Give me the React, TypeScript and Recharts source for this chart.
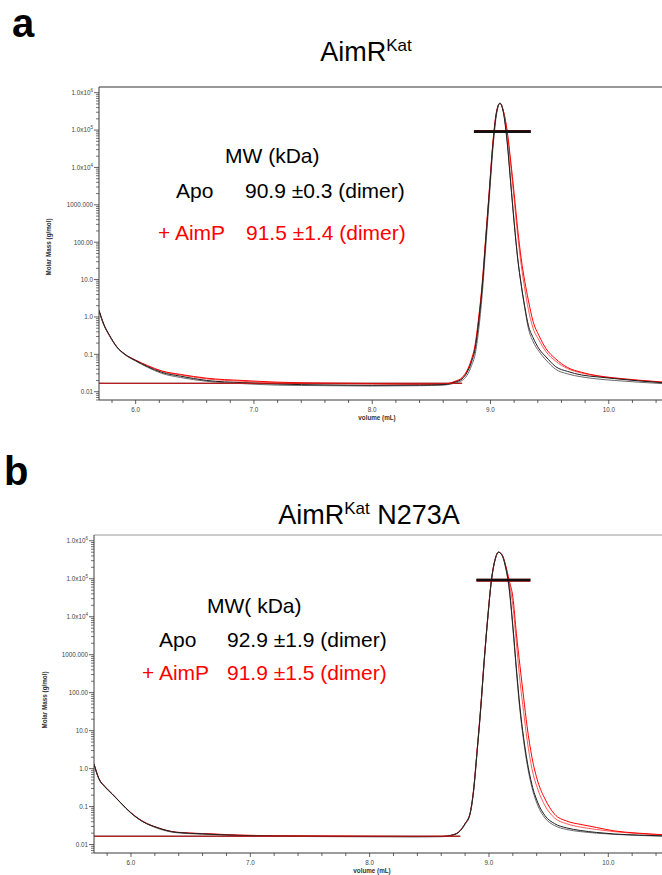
import React from 'react';
import { LineChart, Line, XAxis, YAxis, ReferenceLine } from 'recharts';

// elution volume grid (mL)
const volume = [5.69, 5.73, 5.78, 5.84, 5.91, 6.0, 6.1, 6.22, 6.38, 6.6, 6.9, 7.2, 7.6, 8.0, 8.4, 8.6, 8.7, 8.76, 8.8, 8.84, 8.87, 8.9, 8.93, 8.96, 8.99, 9.02, 9.05, 9.08, 9.11, 9.14, 9.17, 9.2, 9.23, 9.26, 9.29, 9.32, 9.36, 9.41, 9.47, 9.55, 9.65, 9.77, 9.9, 10.05, 10.25, 10.45];

// panel a: AimR Kat
const apoA1 = [1.5, 0.65, 0.32, 0.16, 0.1, 0.068, 0.047, 0.033, 0.026, 0.02, 0.0175, 0.016, 0.0152, 0.0148, 0.015, 0.0155, 0.018, 0.022, 0.032, 0.063, 0.14, 0.72, 6.3, 115, 2090, 39800, 282000, 525000, 282000, 50100, 3980, 324, 36, 7.2, 1.86, 0.6, 0.28, 0.141, 0.085, 0.047, 0.035, 0.028, 0.025, 0.0224, 0.0195, 0.0174];
const apoA2 = [1.45, 0.62, 0.31, 0.155, 0.097, 0.066, 0.045, 0.031, 0.024, 0.019, 0.0165, 0.015, 0.0145, 0.0142, 0.0145, 0.015, 0.017, 0.02, 0.027, 0.05, 0.1, 0.45, 4, 75, 1500, 30000, 250000, 520000, 300000, 56000, 4500, 360, 38, 7, 1.7, 0.5, 0.22, 0.12, 0.07, 0.04, 0.03, 0.025, 0.022, 0.02, 0.018, 0.0165];
const aimpA1 = [1.5, 0.62, 0.31, 0.16, 0.1, 0.07, 0.05, 0.036, 0.029, 0.023, 0.02, 0.018, 0.017, 0.0165, 0.016, 0.016, 0.019, 0.024, 0.036, 0.075, 0.18, 0.95, 8, 140, 2500, 45000, 300000, 520000, 316000, 100000, 15850, 2000, 224, 35.5, 8.9, 2.8, 0.76, 0.316, 0.141, 0.076, 0.0447, 0.033, 0.0269, 0.0234, 0.0204, 0.0182];
const aimpA2 = [1.48, 0.63, 0.31, 0.158, 0.099, 0.069, 0.049, 0.035, 0.028, 0.022, 0.019, 0.0172, 0.0163, 0.016, 0.0158, 0.016, 0.0185, 0.023, 0.034, 0.07, 0.16, 0.85, 7, 130, 2300, 42000, 290000, 520000, 310000, 90000, 12000, 1400, 150, 24, 5.6, 1.6, 0.5, 0.24, 0.117, 0.066, 0.0417, 0.0316, 0.0263, 0.0229, 0.02, 0.0178];

// panel b: AimR Kat N273A
const apoB1 = [1.32, 0.55, 0.34, 0.22, 0.13, 0.068, 0.04, 0.028, 0.021, 0.0192, 0.0175, 0.0168, 0.0165, 0.0163, 0.0162, 0.0163, 0.018, 0.0234, 0.0355, 0.063, 0.25, 2.75, 36.3, 692, 9550, 89100, 309000, 501000, 417000, 200000, 56200, 5890, 436, 40, 6.6, 1.58, 0.38, 0.126, 0.0575, 0.0355, 0.0275, 0.0234, 0.0209, 0.019, 0.0178, 0.017];
const apoB2 = [1.3, 0.54, 0.33, 0.215, 0.128, 0.067, 0.04, 0.027, 0.0205, 0.0188, 0.0172, 0.0165, 0.0162, 0.016, 0.016, 0.0161, 0.0178, 0.023, 0.034, 0.06, 0.23, 2.5, 33, 650, 9000, 85000, 300000, 500000, 410000, 190000, 50000, 5000, 360, 33, 5.5, 1.3, 0.32, 0.105, 0.05, 0.0316, 0.025, 0.0219, 0.02, 0.0186, 0.0174, 0.0166];
const aimpB1 = [1.34, 0.56, 0.34, 0.22, 0.13, 0.069, 0.041, 0.028, 0.0212, 0.0195, 0.0178, 0.017, 0.0167, 0.0165, 0.0163, 0.0164, 0.0182, 0.0236, 0.036, 0.064, 0.26, 2.9, 38, 720, 9800, 90000, 310000, 500000, 427000, 224000, 89100, 33100, 3550, 500, 76, 12.6, 2, 0.45, 0.158, 0.063, 0.0417, 0.0339, 0.0282, 0.0229, 0.02, 0.0182];
const aimpB2 = [1.33, 0.555, 0.335, 0.218, 0.129, 0.068, 0.0405, 0.0278, 0.021, 0.0193, 0.0176, 0.0169, 0.0166, 0.0164, 0.0162, 0.0163, 0.0181, 0.0235, 0.0358, 0.0635, 0.255, 2.85, 37, 700, 9700, 89000, 310000, 500000, 425000, 215000, 75000, 20000, 2000, 200, 32, 5.6, 1.0, 0.28, 0.105, 0.05, 0.0355, 0.0288, 0.025, 0.0219, 0.0195, 0.0178];

// flat baseline segment
const baselineVolume = [5.69, 8.76];
const baselineA = [0.0168, 0.0168];
const baselineB = [0.0166, 0.0166];

// molar mass across the peak (g/mol)
const mwVolumeA = [8.86, 9.34];
const mwVolumeB = [8.895, 9.347];
const mwApoA = 90900;
const mwAimpA = 91500;
const mwApoB = 92900;
const mwAimpB = 91900;

const xDomain = [5.69, 10.45];
const yDomain = [0.006, 1.42e6];
const xTicks = [5.8, 6.0, 6.2, 6.4, 6.6, 6.8, 7.0, 7.2, 7.4, 7.6, 7.8, 8.0, 8.2, 8.4, 8.6, 8.8, 9.0, 9.2, 9.4, 9.6, 9.8, 10.0, 10.2, 10.4];
const xTickLabels = ['6.0', '7.0', '8.0', '9.0', '10.0'];
const yMajorTicks = [0.01, 0.1, 1, 10, 100, 1000, 1e4, 1e5, 1e6];
const yTickLabels = ['0.01', '0.1', '1.0', '10.0', '100.00', '1000.000', '1.0x10', '1.0x10', '1.0x10'];
const yTickExp = ['', '', '', '', '', '', '4', '5', '6'];

const yTicks = [0.001, ...yMajorTicks]
  .flatMap((d, i) => (i === 0 ? [6, 7, 8, 9].map((m) => d * m) : [d, ...[2, 3, 4, 5, 6, 7, 8, 9].map((m) => d * m)]))
  .filter((v) => v >= yDomain[0] && v <= yDomain[1]);

const FONT = '"Liberation Sans", Arial, sans-serif';
const AXIS = '#3a3a3a';
const RED = '#ff0000';

function YTick(props: any) {
  const { x, y, payload } = props;
  const v = payload.value;
  const idx = yMajorTicks.findIndex((t) => Math.abs(Math.log10(t) - Math.log10(v)) < 1e-6);
  if (idx < 0) {
    return <line x1={x - 3} x2={x} y1={y} y2={y} stroke={AXIS} strokeWidth={0.7} />;
  }
  return (
    <g>
      <line x1={x - 5} x2={x} y1={y} y2={y} stroke={AXIS} strokeWidth={0.8} />
      <text x={x - 6} y={y} dy={2.3} textAnchor="end" fontSize={6.3} fill="#444" fontFamily={FONT}>
        {yTickLabels[idx]}
        {yTickExp[idx] && (
          <tspan dy={-3} fontSize={4.5}>
            {yTickExp[idx]}
          </tspan>
        )}
      </text>
    </g>
  );
}

function XTick(props: any) {
  const { x, y, payload } = props;
  const v = payload.value;
  const major = Math.abs(v - Math.round(v)) < 1e-6;
  const label = xTickLabels.find((l) => Math.abs(parseFloat(l) - v) < 1e-6);
  return (
    <g>
      <line x1={x} x2={x} y1={y} y2={y + (major ? 4 : 3)} stroke={AXIS} strokeWidth={0.8} />
      {label && (
        <text x={x} y={y + 12} textAnchor="middle" fontSize={6.3} fill="#444" fontFamily={FONT}>
          {label}
        </text>
      )}
    </g>
  );
}

const pairs = (xs: number[], ys: number[]) => xs.map((v, i) => ({ volume: v, mm: ys[i] }));

interface PanelProps {
  top: number;
  plotTop: number;
  plotBottom: number;
  plotLeft: number;
  apo1: number[];
  apo2: number[];
  aimp1: number[];
  aimp2: number[];
  baseline: number[];
  mwVolume: number[];
  mwApo: number;
  mwAimp: number;
  topStroke: string;
}

function Panel({ top, plotTop, plotBottom, plotLeft, apo1, apo2, aimp1, aimp2, baseline, mwVolume, mwApo, mwAimp, topStroke }: PanelProps) {
  const height = 432;
  const axisH = 24;
  const data = volume.map((v, i) => ({ volume: v, apo1: apo1[i], apo2: apo2[i], aimp1: aimp1[i], aimp2: aimp2[i] }));
  const common = { dot: false, activeDot: false, isAnimationActive: false, type: 'monotone' as const, strokeWidth: 1 };
  return (
    <div style={{ position: 'absolute', left: 0, top, width: 662, height }}>
      <LineChart
        width={662}
        height={height}
        data={data}
        margin={{ top: plotTop - top, right: 0, left: 0, bottom: height - (plotBottom - top) - axisH }}
      >
        <XAxis
          dataKey="volume"
          type="number"
          domain={xDomain}
          allowDataOverflow
          ticks={xTicks}
          interval={0}
          height={axisH}
          tickSize={0}
          tickMargin={0}
          tickLine={false}
          tick={(p: any) => <XTick {...p} />}
          axisLine={{ stroke: AXIS, strokeWidth: 1 }}
        />
        <YAxis
          type="number"
          scale="log"
          domain={yDomain}
          allowDataOverflow
          ticks={yTicks}
          interval={0}
          width={plotLeft}
          tickSize={0}
          tickMargin={0}
          tickLine={false}
          tick={(p: any) => <YTick {...p} />}
          axisLine={{ stroke: AXIS, strokeWidth: 1 }}
        />
        <ReferenceLine y={yDomain[1]} stroke={topStroke} strokeWidth={1} />
        <Line data={pairs(baselineVolume, baseline)} dataKey="mm" stroke="#222" {...common} type="linear" />
        <Line dataKey="aimp2" stroke="#ff5a5a" {...common} />
        <Line dataKey="aimp1" stroke={RED} {...common} />
        <Line dataKey="apo2" stroke="#6a6a6a" {...common} />
        <Line dataKey="apo1" stroke="#1e1e1e" {...common} />
        <Line data={pairs(baselineVolume, baseline)} dataKey="mm" stroke="#d01010" {...common} type="linear" />
        <Line data={pairs(mwVolume, [mwAimp, mwAimp])} dataKey="mm" stroke="#c00000" {...common} type="linear" strokeWidth={3} />
        <Line data={pairs(mwVolume, [mwApo, mwApo])} dataKey="mm" stroke="#111" {...common} type="linear" strokeWidth={2.6} />
      </LineChart>
    </div>
  );
}

const titleStyle = { fontFamily: FONT, fill: '#000' };

export default function App() {
  return (
    <div style={{ position: 'absolute', left: 0, top: 0, width: 662, height: 875, overflow: 'hidden', background: '#fff' }}>
      <Panel
        top={0}
        plotTop={87}
        plotBottom={400}
        plotLeft={99}
        apo1={apoA1}
        apo2={apoA2}
        aimp1={aimpA1}
        aimp2={aimpA2}
        baseline={baselineA}
        mwVolume={mwVolumeA}
        mwApo={mwApoA}
        mwAimp={mwAimpA}
        topStroke="#333"
      />
      <Panel
        top={448}
        plotTop={535}
        plotBottom={853}
        plotLeft={94}
        apo1={apoB1}
        apo2={apoB2}
        aimp1={aimpB1}
        aimp2={aimpB2}
        baseline={baselineB}
        mwVolume={mwVolumeB}
        mwApo={mwApoB}
        mwAimp={mwAimpB}
        topStroke="#999"
      />
      <svg width={662} height={875} style={{ position: 'absolute', left: 0, top: 0, pointerEvents: 'none' }}>
        <g style={titleStyle}>
          <text x={12} y={36.5} fontSize={40} fontWeight="bold">a</text>
          <text x={4} y={485} fontSize={40} fontWeight="bold">b</text>
          <text x={366} y={61} fontSize={27} textAnchor="middle">
            AimR<tspan dy={-10} fontSize={17}>Kat</tspan>
          </text>
          <text x={369} y={524} fontSize={27} textAnchor="middle">
            AimR<tspan dy={-10} fontSize={17}>Kat</tspan>
            <tspan dy={10}> N273A</tspan>
          </text>

          <text x={225} y={163} fontSize={21}>MW (kDa)</text>
          <text x={176} y={198} fontSize={21}>Apo</text>
          <text x={245} y={198} fontSize={21}>90.9 ±0.3 (dimer)</text>
          <text x={158} y={240} fontSize={21} fill={RED}>+ AimP</text>
          <text x={246} y={240} fontSize={21} fill={RED}>91.5 ±1.4 (dimer)</text>

          <text x={207} y={613} fontSize={21}>MW( kDa)</text>
          <text x={159} y={647} fontSize={21}>Apo</text>
          <text x={227} y={647} fontSize={21}>92.9 ±1.9 (dimer)</text>
          <text x={142} y={680} fontSize={21} fill={RED}>+ AimP</text>
          <text x={227} y={680} fontSize={21} fill={RED}>91.9 ±1.5 (dimer)</text>

          <text x={377} y={420} fontSize={6.3} fontWeight="bold" textAnchor="middle" fill="#333">volume (mL)</text>
          <text x={372} y={873} fontSize={6.3} fontWeight="bold" textAnchor="middle" fill="#333">volume (mL)</text>
          <text transform="translate(51,247) rotate(-90)" fontSize={6.3} fontWeight="bold" textAnchor="middle" fill="#333">Molar Mass (g/mol)</text>
          <text transform="translate(47,700) rotate(-90)" fontSize={6.3} fontWeight="bold" textAnchor="middle" fill="#333">Molar Mass (g/mol)</text>
        </g>
      </svg>
    </div>
  );
}
